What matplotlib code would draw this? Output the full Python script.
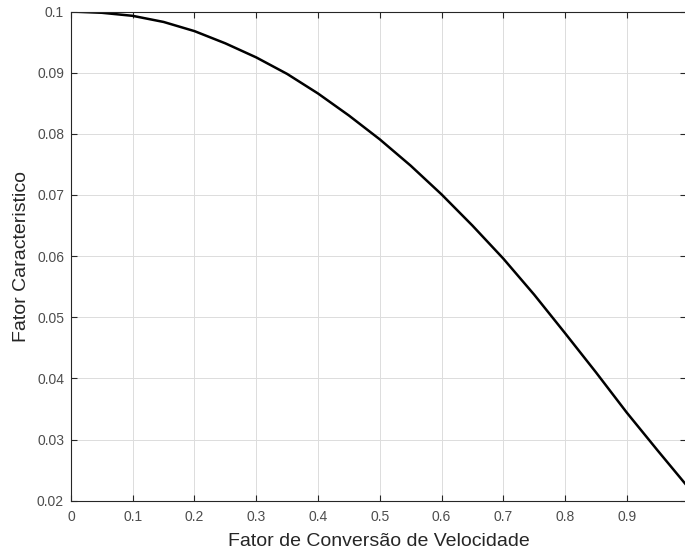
import matplotlib
matplotlib.use('Agg')
import matplotlib.pyplot as plt
from matplotlib.ticker import FormatStrFormatter

# valores
fator_conv = [0, 0.05, 0.1, 0.15, 0.2, 0.25, 0.3, 0.35, 0.4, 0.45, 0.5,
              0.55, 0.6, 0.65, 0.7, 0.75, 0.8, 0.85, 0.9, 0.95, 0.996]
fator_carac = [0.1000, 0.0998, 0.0993, 0.0983, 0.0968, 0.0948, 0.0925, 0.0898,
               0.0866, 0.0830, 0.0791, 0.0748, 0.0701, 0.0650, 0.0596, 0.0537,
               0.0474, 0.0410, 0.0344, 0.0282, 0.0226]
xticks = [0, 0.1, 0.2, 0.3, 0.4, 0.5, 0.6, 0.7, 0.8, 0.9]
yticks = [0.02, 0.03, 0.04, 0.05, 0.06, 0.07, 0.08, 0.09, 0.1]

plt.rcParams['font.family'] = ['Liberation Sans', 'DejaVu Sans']

fig = plt.figure(figsize=(6.85, 5.53), dpi=100)
ax = fig.add_axes([0.1036, 0.0946, 0.898, 0.8845])

ax.plot(fator_conv, fator_carac, color='black', lw=1.8, solid_joinstyle='round')

ax.set_xlim(0, 0.996)
ax.set_ylim(0.02, 0.1)
ax.set_xticks(xticks)
ax.set_yticks(yticks)
ax.xaxis.set_major_formatter(FormatStrFormatter('%g'))
ax.yaxis.set_major_formatter(FormatStrFormatter('%g'))
ax.grid(True, color='#dcdcdc', lw=0.7)
ax.set_axisbelow(True)
ax.tick_params(direction='in', top=True, right=True, length=4, width=0.8,
               labelsize=10, colors='#262626', labelcolor='#4d4d4d', pad=5)
ax.tick_params(axis='x', pad=7)
for s in ax.spines.values():
    s.set_color('#262626')
    s.set_linewidth(0.8)

ax.set_xlabel('Fator de Conversão de Velocidade', fontsize=14, color='#262626', labelpad=6)
ax.set_ylabel('Fator Caracteristico', fontsize=14, color='#262626', labelpad=5)

fig.savefig('out.png', dpi=100)
